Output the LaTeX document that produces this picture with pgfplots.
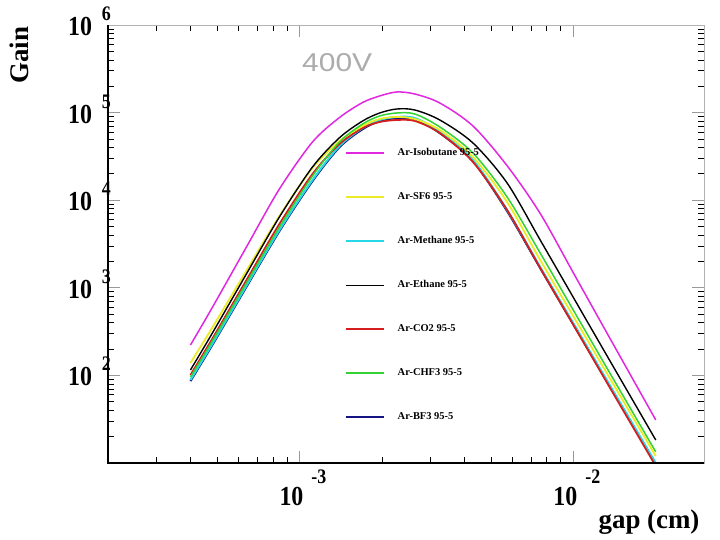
\documentclass[border=0pt]{standalone}
\usepackage{fontspec}
\setmainfont{Liberation Serif}
\setsansfont{Liberation Sans}
\usepackage{graphicx}
\usepackage{pgfplots}
\pgfplotsset{compat=1.18}
\definecolor{cMag}{RGB}{225,40,225}
\definecolor{cYel}{RGB}{235,235,40}
\definecolor{cCya}{RGB}{40,215,230}
\definecolor{cRed}{RGB}{215,30,30}
\definecolor{cGre}{RGB}{50,210,50}
\definecolor{cNav}{RGB}{20,20,130}
\newcommand\ten{\scalebox{1}[1.15]{\fontsize{24}{24}\selectfont\bfseries 10}}
\newcommand\ex[1]{\scalebox{1}[1.15]{\fontsize{18}{18}\selectfont\bfseries #1}}
\newcommand\xtl[1]{\llap{\ten}\rlap{\hspace{8bp}\raisebox{22bp}{\ex{#1}}}}
\newcommand\ytl[1]{\llap{\ten}\rlap{\hspace{10bp}\raisebox{15bp}{\ex{#1}}}}
\begin{document}
\begin{tikzpicture}
\useasboundingbox (-108bp,-77bp) rectangle (612bp,463bp);
\begin{axis}[
  at={(0,0)}, anchor=south west,
  scale only axis, width=596bp, height=438bp,
  xmode=log, ymode=log,
  xmin=2e-4, xmax=3e-2, ymin=10, ymax=1e6,
  xtick={1e-3,1e-2}, xticklabels={\xtl{-3},\xtl{-2}},
  minor xtick={3e-4,4e-4,5e-4,6e-4,7e-4,8e-4,9e-4,2e-3,3e-3,4e-3,5e-3,6e-3,7e-3,8e-3,9e-3},
  ytick={1e2,1e3,1e4,1e5,1e6}, yticklabels={\ytl{2},\ytl{3},\ytl{4},\ytl{5},\ytl{6}},
  minor ytick={20,30,40,50,60,70,80,90,200,300,400,500,600,700,800,900,2000,3000,4000,5000,6000,7000,8000,9000,2e4,3e4,4e4,5e4,6e4,7e4,8e4,9e4,2e5,3e5,4e5,5e5,6e5,7e5,8e5,9e5},
  tick align=inside,
  major tick length=12bp, minor tick length=6bp,
  major tick style={gray!80, line width=0.6bp},
  minor tick style={black, line width=0.7bp},
  axis line style={gray!60, line width=0.8bp},
  xticklabel style={anchor=base, inner sep=0pt, xshift=4bp, yshift=-42bp},
  yticklabel style={anchor=base, inner sep=0pt, xshift=-16bp, yshift=-10.5bp},
  ylabel={\fontsize{27}{27}\selectfont\bfseries Gain},
  ylabel style={at={(axis description cs:-0.1342,0.9315)}, anchor=base, rotate=0},
  xlabel={\fontsize{27}{27}\selectfont\bfseries gap (cm)},
  xlabel style={at={(axis description cs:0.9983,-0.1484)}, anchor=base east},
  legend cell align=left,
  legend image code/.code={\draw[#1] (0bp,0bp) -- (38bp,0bp);},
  legend style={draw=none, fill=none, inner sep=0pt, anchor=north west,
    at={(axis description cs:0.3977,0.718)}, row sep=35bp, column sep=12bp,
    font=\fontsize{10.5}{12}\selectfont\bfseries,
    nodes={inner sep=0pt, text height=7bp, text depth=2bp}},
]
\addplot[cNav, line width=2bp, smooth, tension=0.5, forget plot] coordinates {
(4.0e-4,86) (4.8e-4,220) (6.39e-4,1012) (8.45e-4,4431) (1.116e-3,16500) (1.401e-3,40310)
(1.701e-3,64710) (1.963e-3,79850) (2.266e-3,86430) (2.638e-3,84190) (3.256e-3,58240)
(4.301e-3,27910) (5.731e-3,7497) (7.57e-3,1676) (1.0e-2,382) (1.332e-2,83.3) (2.0e-2,9.7)};
\addplot[cCya, line width=2bp, smooth, tension=0.5, forget plot] coordinates {
(4.0e-4,88.6) (4.8e-4,227) (6.39e-4,1043) (8.45e-4,4568) (1.116e-3,17010) (1.401e-3,41560)
(1.701e-3,66710) (1.963e-3,82320) (2.266e-3,89100) (2.638e-3,86790) (3.256e-3,60040)
(4.301e-3,28770) (5.731e-3,7729) (7.57e-3,1728) (1.0e-2,394) (1.332e-2,85.9) (2.0e-2,10)};
\addplot[cRed, line width=1.8bp, smooth, tension=0.5, forget plot] coordinates {
(4.0e-4,101.1) (4.8e-4,260) (6.39e-4,1208) (8.45e-4,5350) (1.116e-3,19910) (1.401e-3,43810)
(1.701e-3,66710) (1.963e-3,78110) (2.266e-3,82320) (2.638e-3,80190) (3.256e-3,58480)
(4.301e-3,27300) (5.731e-3,7729) (7.57e-3,1683) (1.0e-2,378) (1.332e-2,81.0) (2.0e-2,9.24)};
\addplot[cYel, line width=1.8bp, smooth, tension=0.5, forget plot] coordinates {
(4.0e-4,138.6) (4.8e-4,348.5) (6.39e-4,1551) (8.45e-4,6601) (1.116e-3,23310) (1.401e-3,47400)
(1.701e-3,70310) (1.963e-3,84500) (2.266e-3,89100) (2.638e-3,84500) (3.256e-3,63280)
(4.301e-3,31130) (5.731e-3,9539) (7.57e-3,2077) (1.0e-2,474) (1.332e-2,103.2) (2.0e-2,12.0)};
\addplot[cGre, line width=1.5bp, smooth, tension=0.5, forget plot] coordinates {
(4.0e-4,95.9) (4.8e-4,246) (6.39e-4,1129) (8.45e-4,4944) (1.116e-3,18890) (1.401e-3,46160)
(1.701e-3,74120) (1.963e-3,91460) (2.266e-3,98950) (2.638e-3,96380) (3.256e-3,68490)
(4.301e-3,34570) (5.731e-3,10880) (7.57e-3,2496) (1.0e-2,556) (1.332e-2,118.7) (2.0e-2,13.4)};
\addplot[black, line width=1.4bp, smooth, tension=0.5, forget plot] coordinates {
(4.0e-4,115.3) (4.8e-4,301) (6.39e-4,1422) (8.45e-4,6430) (1.116e-3,23930) (1.401e-3,51700)
(1.701e-3,80190) (1.963e-3,98950) (2.266e-3,109900) (2.638e-3,107100) (3.256e-3,82320)
(4.301e-3,44980) (5.731e-3,15720) (7.57e-3,3513) (1.0e-2,777) (1.332e-2,164.4) (2.0e-2,18.3)};
\addplot[cMag, line width=1.5bp, smooth, tension=0.5, forget plot] coordinates {
(4.0e-4,222) (4.8e-4,591) (6.39e-4,2884) (8.45e-4,13420) (1.116e-3,46160) (1.401e-3,87950)
(1.701e-3,130400) (1.963e-3,154700) (2.266e-3,171900) (2.638e-3,163000) (3.256e-3,128700)
(4.301e-3,70310) (5.731e-3,24760) (7.57e-3,7051) (1.0e-2,1483) (1.332e-2,298) (2.0e-2,31)};
\addlegendimage{cMag, line width=2bp}\addlegendentry{Ar-Isobutane 95-5}
\addlegendimage{cYel, line width=2bp}\addlegendentry{Ar-SF6 95-5}
\addlegendimage{cCya, line width=2.5bp}\addlegendentry{Ar-Methane 95-5}
\addlegendimage{black, line width=1bp}\addlegendentry{Ar-Ethane 95-5}
\addlegendimage{cRed, line width=2.5bp}\addlegendentry{Ar-CO2 95-5}
\addlegendimage{cGre, line width=1.6bp}\addlegendentry{Ar-CHF3 95-5}
\addlegendimage{cNav, line width=2.5bp}\addlegendentry{Ar-BF3 95-5}
\node[anchor=base west, inner sep=0pt, text=gray!65] at (axis description cs:0.3255,0.8927)
  {\resizebox{70bp}{18bp}{\sffamily 400V}};
\end{axis}
\draw[black, line width=1.2bp] (current axis.north west) -- (current axis.south west) -- (current axis.south east);
\end{tikzpicture}
\end{document}
